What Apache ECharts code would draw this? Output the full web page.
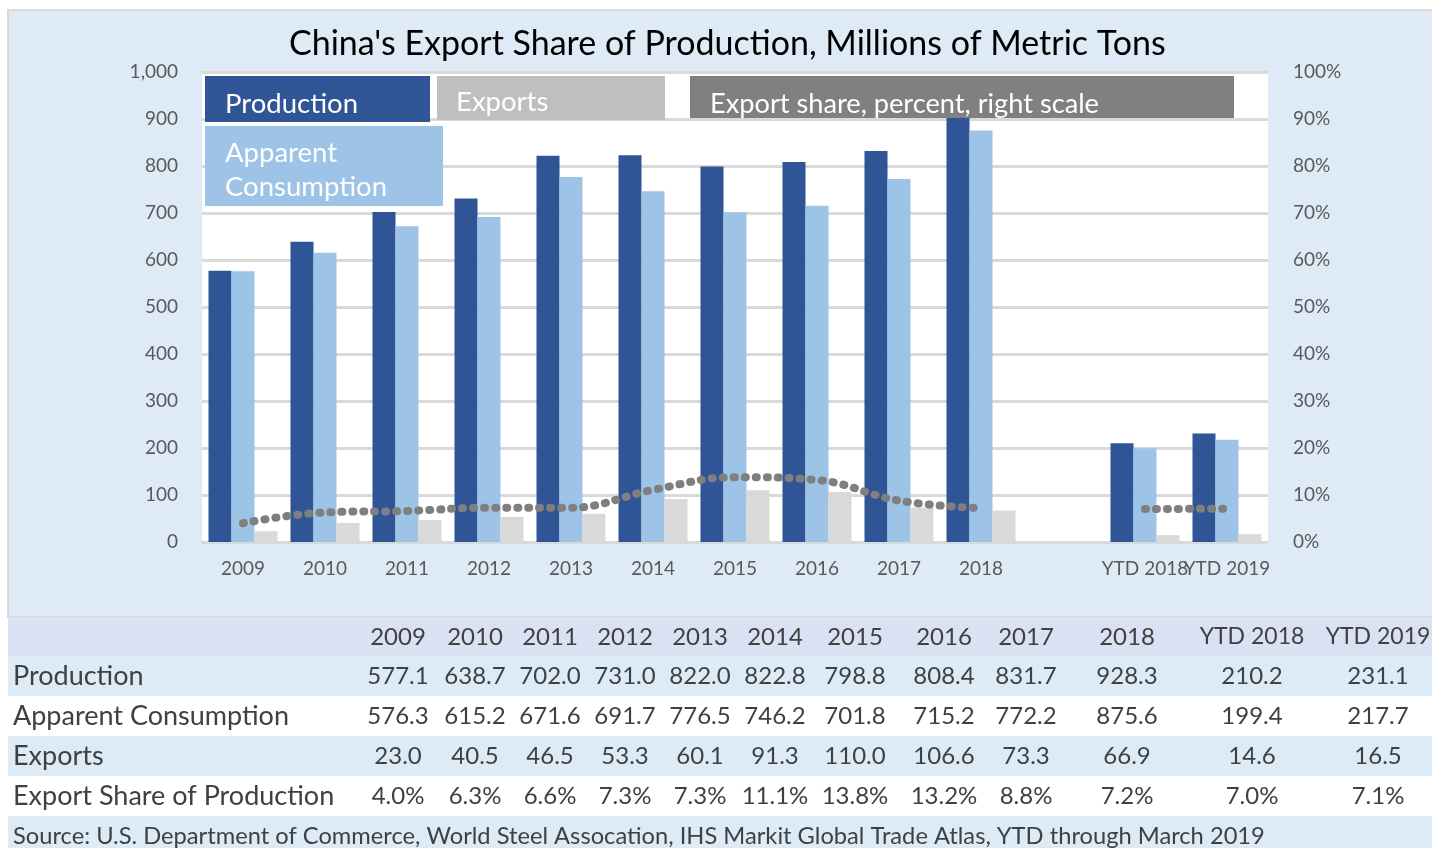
<!DOCTYPE html>
<html>
<head>
<meta charset="utf-8">
<script src="https://cdn.jsdelivr.net/npm/echarts@6.0.0/dist/echarts.min.js"></script>
<style>
  html, body { margin: 0; padding: 0; background: #fff; }
  #chart { width: 1432px; height: 848px; }
</style>
</head>
<body>
<div id="chart"></div>
<script>
// periods shown in the chart and in the table
const periods = ['2009', '2010', '2011', '2012', '2013', '2014', '2015', '2016', '2017', '2018', 'YTD 2018', 'YTD 2019']
const production = [577.1, 638.7, 702.0, 731.0, 822.0, 822.8, 798.8, 808.4, 831.7, 928.3, 210.2, 231.1]
const consumption = [576.3, 615.2, 671.6, 691.7, 776.5, 746.2, 701.8, 715.2, 772.2, 875.6, 199.4, 217.7]
const exportsMt = [23.0, 40.5, 46.5, 53.3, 60.1, 91.3, 110.0, 106.6, 73.3, 66.9, 14.6, 16.5]
const exportShare = [4.0, 6.3, 6.6, 7.3, 7.3, 11.1, 13.8, 13.2, 8.8, 7.2, 7.0, 7.1] // percent

const leftTicks = [0, 100, 200, 300, 400, 500, 600, 700, 800, 900, 1000]

// blank slot between the annual and YTD groups
const gapAt = 10
const withGap = (arr, blank) => arr.slice(0, gapAt).concat([blank], arr.slice(gapAt))
const axisCats = withGap(periods, '')

const FONT = 'Lato, "Open Sans", sans-serif'
const TXT = '#404040'

const chart = echarts.init(document.getElementById('chart'))

// table under the chart, built from the same arrays
const colX = [398, 475, 550, 625, 700, 775, 855, 944, 1026, 1127, 1252, 1378]
const rows = [
  { label: 'Production', values: production.map(v => v.toFixed(1)) },
  { label: 'Apparent Consumption', values: consumption.map(v => v.toFixed(1)) },
  { label: 'Exports', values: exportsMt.map(v => v.toFixed(1)) },
  { label: 'Export Share of Production', values: exportShare.map(v => v.toFixed(1) + '%') },
]
const rowTop = 656, rowH = 40
const tableGraphics = []
// header band
tableGraphics.push({ type: 'rect', shape: { x: 8, y: 617, width: 1424, height: 39 }, style: { fill: '#dae1f3' }, silent: true })
periods.forEach((p, i) => {
  tableGraphics.push({ type: 'text', x: colX[i], y: 637, style: { text: p, fill: TXT, fontSize: p.length > 4 ? 23 : 24, fontFamily: FONT, align: 'center', verticalAlign: 'middle' } })
})
rows.forEach((r, k) => {
  const y0 = rowTop + k * rowH
  tableGraphics.push({ type: 'rect', shape: { x: 8, y: y0, width: 1424, height: rowH }, style: { fill: k % 2 === 0 ? '#ddebf7' : '#ffffff' }, silent: true })
  tableGraphics.push({ type: 'text', x: 13, y: y0 + 20, style: { text: r.label, fill: TXT, fontSize: 27, fontFamily: FONT, align: 'left', verticalAlign: 'middle' } })
  r.values.forEach((v, i) => {
    tableGraphics.push({ type: 'text', x: colX[i], y: y0 + 20, style: { text: v, fill: TXT, fontSize: 24, fontFamily: FONT, align: 'center', verticalAlign: 'middle' } })
  })
})
tableGraphics.push({ type: 'rect', shape: { x: 8, y: 816, width: 1424, height: 32 }, style: { fill: '#ddebf7' }, silent: true })
tableGraphics.push({ type: 'text', x: 13, y: 836, style: { text: 'Source: U.S. Department of Commerce, World Steel Assocation, IHS Markit Global Trade Atlas, YTD through March 2019', fill: TXT, fontSize: 23.7, fontFamily: FONT, align: 'left', verticalAlign: 'middle' } })

// legend boxes drawn as in the original
const legendGraphics = [
  { type: 'rect', shape: { x: 205, y: 76, width: 225, height: 46 }, style: { fill: '#2f5597' }, z: 100 },
  { type: 'text', x: 225, y: 104, style: { text: 'Production', fill: '#fff', fontSize: 27.5, fontFamily: FONT, verticalAlign: 'middle' }, z: 101 },
  { type: 'rect', shape: { x: 437, y: 76, width: 228, height: 44 }, style: { fill: '#bfbfbf' }, z: 100 },
  { type: 'text', x: 456, y: 102, style: { text: 'Exports', fill: '#fff', fontSize: 27.5, fontFamily: FONT, verticalAlign: 'middle' }, z: 101 },
  { type: 'rect', shape: { x: 690, y: 76, width: 544, height: 42 }, style: { fill: '#808080' }, z: 100 },
  { type: 'text', x: 710, y: 104, style: { text: 'Export share, percent, right scale', fill: '#fff', fontSize: 27.2, fontFamily: FONT, verticalAlign: 'middle' }, z: 101 },
  { type: 'rect', shape: { x: 205, y: 126, width: 238, height: 80 }, style: { fill: '#9dc3e6' }, z: 100 },
  { type: 'text', x: 225, y: 153, style: { text: 'Apparent', fill: '#fff', fontSize: 27.5, fontFamily: FONT, verticalAlign: 'middle' }, z: 101 },
  { type: 'text', x: 225, y: 187, style: { text: 'Consumption', fill: '#fff', fontSize: 27.5, fontFamily: FONT, verticalAlign: 'middle' }, z: 101 },
]

const option = {
  backgroundColor: '#fff',
  animation: false,
  title: {
    text: "China's Export Share of Production, Millions of Metric Tons",
    left: 284,
    top: 22,
    textStyle: { fontSize: 34, fontWeight: 'normal', color: '#000', fontFamily: FONT }
  },
  grid: {
    left: 202, right: 164, top: 72, bottom: 306,
    show: true, backgroundColor: '#fff', borderWidth: 0
  },
  xAxis: {
    type: 'category',
    data: axisCats,
    axisTick: { show: false },
    axisLine: { lineStyle: { color: '#d9d9d9', width: 2 } },
    axisLabel: { interval: 0, color: '#595959', fontSize: 19, fontFamily: FONT, margin: 17 }
  },
  yAxis: [
    {
      type: 'value', min: 0, max: 1000, interval: 100,
      axisLine: { show: false }, axisTick: { show: false },
      splitLine: { lineStyle: { color: '#d9d9d9', width: 3 } },
      axisLabel: {
        color: '#595959', fontSize: 19, fontFamily: FONT, margin: 24,
        formatter: v => leftTicks.includes(v) ? v.toLocaleString('en-US') : ''
      }
    },
    {
      type: 'value', min: 0, max: 100, interval: 10,
      axisLine: { show: false }, axisTick: { show: false }, splitLine: { show: false },
      axisLabel: { color: '#595959', fontSize: 19, fontFamily: FONT, margin: 25, formatter: '{value}%' }
    }
  ],
  series: [
    {
      name: 'Production', type: 'bar', data: withGap(production, null),
      barWidth: 23, barGap: '0%', itemStyle: { color: '#2f5597' }
    },
    {
      name: 'Apparent Consumption', type: 'bar', data: withGap(consumption, null),
      barWidth: 23, barGap: '0%', itemStyle: { color: '#9dc3e6' }
    },
    {
      name: 'Exports', type: 'bar', data: withGap(exportsMt, null),
      barWidth: 23, barGap: '0%', itemStyle: { color: '#d9d9d9' }
    },
    {
      name: 'Export share', type: 'line', yAxisIndex: 1, data: withGap(exportShare, null),
      smooth: 0.4, connectNulls: false, symbol: 'none', z: 5,
      lineStyle: { color: '#7f7f7f', width: 8, type: [1, 10], cap: 'round' }
    }
  ],
  graphic: [
    { type: 'rect', shape: { x: 8, y: 10, width: 1430, height: 607 }, style: { fill: '#deebf7', stroke: '#d9d9d9', lineWidth: 2 }, z: -10, silent: true },
    ...tableGraphics,
    ...legendGraphics
  ]
}

option && chart.setOption(option)
</script>
</body>
</html>
